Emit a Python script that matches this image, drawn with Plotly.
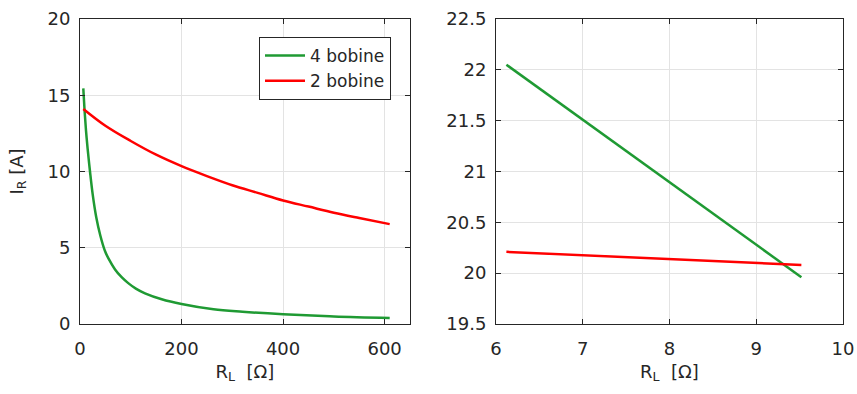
import plotly.graph_objects as go

# Left panel data
r_green = [6.5, 9, 11.8, 15, 19.7, 25, 32, 40, 49, 56, 69, 82, 95, 110, 128, 161, 200, 263, 320, 400, 500, 610]
i_green = [15.45, 14.0, 12.7, 11.5, 10.0, 8.5, 7.0, 5.8, 4.8, 4.3, 3.58, 3.07, 2.68, 2.32, 2.01, 1.62, 1.31, 0.96, 0.8, 0.64, 0.5, 0.4]
r_red = [6.5, 50, 100, 150, 200, 250, 300, 350, 400, 450, 500, 550, 610]
i_red = [14.1, 13.0, 12.0, 11.1, 10.35, 9.7, 9.1, 8.6, 8.1, 7.7, 7.3, 6.95, 6.55]

# Right panel data
r_green_z = [6.12, 9.52]
i_green_z = [22.05, 19.96]
r_red_z = [6.12, 9.52]
i_red_z = [20.21, 20.08]

GREEN = "#1f9a33"
RED = "#ff0000"
W, H = 857, 394
FONT = "DejaVu Sans, Liberation Sans, Arial, sans-serif"
TXT = "#262626"

fig = go.Figure()
fig.add_trace(go.Scatter(x=r_green, y=i_green, mode="lines", name="4 bobine",
                         line=dict(color=GREEN, width=2.5, shape="spline", smoothing=1),
                         xaxis="x", yaxis="y"))
fig.add_trace(go.Scatter(x=r_red, y=i_red, mode="lines", name="2 bobine",
                         line=dict(color=RED, width=2.5, shape="spline"),
                         xaxis="x", yaxis="y"))
fig.add_trace(go.Scatter(x=r_green_z, y=i_green_z, mode="lines", showlegend=False,
                         line=dict(color=GREEN, width=2.5), xaxis="x2", yaxis="y2"))
fig.add_trace(go.Scatter(x=r_red_z, y=i_red_z, mode="lines", showlegend=False,
                         line=dict(color=RED, width=2.5), xaxis="x2", yaxis="y2"))

tickfont = dict(family=FONT, size=18, color=TXT)
common = dict(showline=True, linecolor=TXT, linewidth=1, mirror="ticks",
              ticks="inside", ticklen=5, tickcolor=TXT,
              showgrid=True, gridcolor="#e3e3e3", gridwidth=1,
              zeroline=False, tickfont=tickfont, automargin=False)
xcommon = dict(common, ticklabelstandoff=8)
ycommon = dict(common, ticklabelstandoff=5)
titlefont = dict(family=FONT, size=18, color=TXT)

ydom = [1 - 324 / H, 1 - 19 / H]
fig.update_layout(
    width=W, height=H, margin=dict(l=0, r=0, t=0, b=0, autoexpand=False),
    paper_bgcolor="white", plot_bgcolor="white",
    font=dict(family=FONT, color=TXT),
    xaxis=dict(domain=[80 / W, 410 / W], range=[0, 650], tickvals=[0, 200, 400, 600],
               anchor="y",
               title=dict(text="R<sub>L</sub>  [Ω]", font=titlefont, standoff=7),
               **xcommon),
    yaxis=dict(domain=ydom, range=[0, 20], tickvals=[0, 5, 10, 15, 20], anchor="x",
               title=dict(text="I<sub>R</sub> [A]", font=titlefont, standoff=19),
               **ycommon),
    xaxis2=dict(domain=[496 / W, 843 / W], range=[6, 10], tickvals=[6, 7, 8, 9, 10],
                anchor="y2",
                title=dict(text="R<sub>L</sub>  [Ω]", font=titlefont, standoff=7),
                **xcommon),
    yaxis2=dict(domain=ydom, range=[19.5, 22.5], tickvals=[19.5, 20, 20.5, 21, 21.5, 22, 22.5],
                ticktext=["19.5", "20", "20.5", "21", "21.5", "22", "22.5"], anchor="x2",
                **ycommon),
    legend=dict(x=391 / W, xanchor="right", y=1 - 37 / H, yanchor="top",
                bgcolor="white", bordercolor=TXT, borderwidth=1, itemwidth=40,
                font=dict(family=FONT, size=17, color=TXT), tracegroupgap=0),
    showlegend=True,
)

fig.write_html("out.html")
